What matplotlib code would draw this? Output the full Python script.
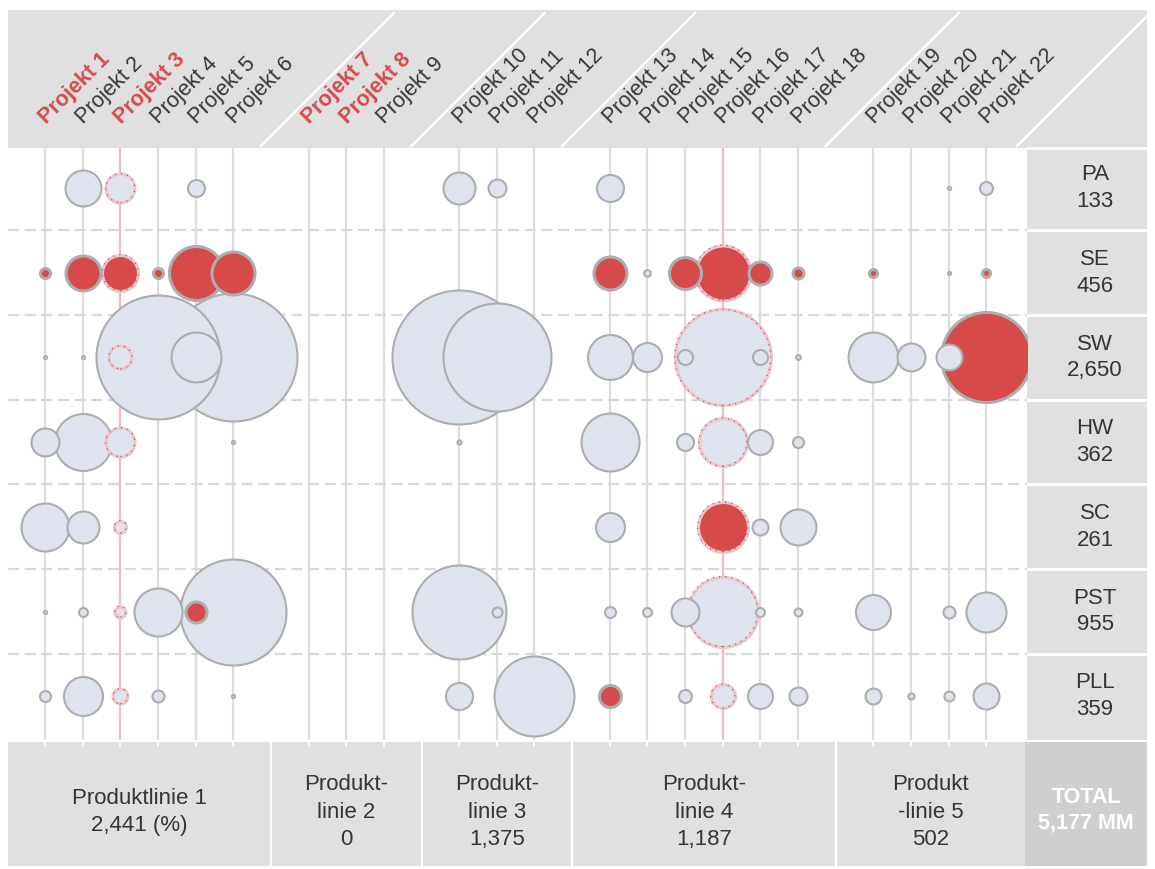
import numpy as np
import matplotlib
matplotlib.use("Agg")
import matplotlib.pyplot as plt
from matplotlib import rcParams
from matplotlib.patches import Rectangle

rcParams["font.family"] = ["Liberation Sans", "DejaVu Sans"]

# ---- data ----
projects = [f"Projekt {i}" for i in range(1, 23)]
product_line = [1] * 6 + [2] * 3 + [3] * 3 + [4] * 6 + [5] * 4
red_labels = [1, 3, 7, 8]
highlight_projects = [3, 16]

rows = ["PA", "SE", "SW", "HW", "SC", "PST", "PLL"]
row_totals = ["133", "456", "2,650", "362", "261", "955", "359"]
line_labels = ["Produktlinie 1\n2,441 (%)", "Produkt-\nlinie 2\n0",
               "Produkt-\nlinie 3\n1,375", "Produkt-\nlinie 4\n1,187",
               "Produkt\n-linie 5\n502"]
total_label = "TOTAL\n5,177 MM"

# values per row (MM), project 1..22, 0 = nothing
pa = [0, 38.5, 25, 0, 8.6, 0, 0, 0, 0, 30.4, 9.6, 0,
      21.7, 0, 0, 0, 0, 0, 0, 0, 0.3, 5.0]
se = [3.0, 36.4, 38.5, 3.0, 86.7, 55, 0, 0, 0, 0, 0, 0,
      32.4, 1.3, 30.4, 90, 15.7, 3.6, 1.9, 0, 0.3, 1.9]
sw = [0.3, 0.3, 15.7, 457, 74, 487, 0, 0, 0, 534, 347, 0,
      60, 25, 6.7, 274, 6.7, 0.7, 74, 23.3, 20, 241]
hw = [23.3, 96.6, 25, 0, 0, 0.3, 0, 0, 0, 0.5, 0, 0,
      100, 0, 8.6, 68.5, 18.6, 3.6, 0, 0, 0, 0]
sc = [68.5, 30.4, 4.3, 0, 0, 0, 0, 0, 0, 0, 0, 0,
      25, 0, 0, 74.3, 7.6, 38.5, 0, 0, 0, 0]
pst = [0.3, 2.4, 3.6, 68.5, 13.1, 334, 0, 0, 0, 263, 3.0, 0,
       3.6, 2.4, 23.3, 146, 2.4, 1.9, 36.4, 0, 4.3, 47.6]
pll = [3.6, 45.2, 6.7, 4.3, 0, 0.3, 0, 0, 0, 21.7, 0, 190,
       14.4, 0, 5.0, 17.1, 18.6, 9.6, 7.6, 1.1, 3.0, 20]
values = [pa, se, sw, hw, sc, pst, pll]

red_pa = []
red_se = [1, 2, 3, 4, 5, 6, 13, 15, 16, 17, 18, 19, 22]
red_sw = [22]
red_hw = []
red_sc = [16]
red_pst = [5]
red_pll = [13]
red_cells = [red_pa, red_se, red_sw, red_hw, red_sc, red_pst, red_pll]

# ---- layout (pixels) ----
DPI = 100
W, H = 1155, 869
x0_px, x1_px, y0_px, y1_px = 8, 1027, 148, 740
col_first, col_step = 45, 37.65
row_first, row_step = 188, 84.7
px_per_sqrt = 2.9  # bubble radius in px per sqrt(value)

GREY_PANEL = "#e0e0e0"
TEXT = "#353535"
RED = "#d64a4a"
FILL = "#dfe3ee"

slots = [i + (pl - 1) for i, pl in enumerate(product_line)]


def slot_px(s):
    return col_first + col_step * s


def row_px(r):
    return row_first + row_step * r


fig = plt.figure(figsize=(W / DPI, H / DPI), dpi=DPI)
bg = fig.add_axes([0, 0, 1, 1])
bg.set_xlim(0, W)
bg.set_ylim(H, 0)
bg.axis("off")

ax = fig.add_axes([x0_px / W, 1 - y1_px / H, (x1_px - x0_px) / W, (y1_px - y0_px) / H])
xmin = -(col_first - x0_px) / col_step
ax.set_xlim(xmin, xmin + (x1_px - x0_px) / col_step)
ymin = -(row_first - y0_px) / row_step
ax.set_ylim(ymin + (y1_px - y0_px) / row_step, ymin)
ax.axis("off")

# panels
right_edge = 1147
bg.add_patch(Rectangle((x0_px, 10), right_edge - x0_px, y0_px - 10, color=GREY_PANEL, lw=0, zorder=0))
bg.add_patch(Rectangle((x1_px, y0_px), right_edge - x1_px, y1_px - y0_px, color=GREY_PANEL, lw=0, zorder=0))
bg.add_patch(Rectangle((x0_px, y1_px + 2), x1_px - 2 - x0_px, 866 - y1_px - 2, color=GREY_PANEL, lw=0, zorder=0))
bg.add_patch(Rectangle((x1_px - 2, y1_px + 2), right_edge - x1_px + 2, 866 - y1_px - 2, color="#cfcfcf", lw=0, zorder=0))
bg.plot([x1_px, right_edge], [y0_px, y0_px], color="white", lw=2, zorder=1)
for r in range(len(rows) - 1):
    yb = row_px(r + 0.5)
    bg.plot([x1_px, right_edge], [yb, yb], color="white", lw=2.2, zorder=1)

# header diagonals and bottom separators at product line boundaries
gap_slots = [slots[product_line.index(k)] - 1 for k in range(2, 6)]
bounds = [slot_px(g) for g in gap_slots]
for b in bounds + [x1_px]:
    bg.plot([b - 10, b + 123], [146, 13], color="white", lw=1.6, zorder=1)
for b in bounds:
    bg.plot([b, b], [y1_px + 2, 866], color="white", lw=1.6, zorder=1)

# header project labels
for i, name in enumerate(projects):
    is_red = (i + 1) in red_labels
    bg.text(slot_px(slots[i]) + 1, 124, name, rotation=45, rotation_mode="anchor",
            ha="left", va="baseline", fontsize=15.5,
            color=RED if is_red else TEXT,
            fontweight="bold" if is_red else "normal", zorder=3)

# row labels on the right
for r, (name, tot) in enumerate(zip(rows, row_totals)):
    bg.text(1095, row_px(r), f"{name}\n{tot}", ha="center", va="center",
            fontsize=16, color=TEXT, linespacing=1.35, zorder=3)

# product line labels at the bottom
edges = [x0_px] + bounds + [x1_px - 2]
for k, lab in enumerate(line_labels):
    bg.text((edges[k] + edges[k + 1]) / 2, 812, lab, ha="center", va="center",
            fontsize=16, color=TEXT, linespacing=1.4, zorder=3)
bg.text((x1_px - 2 + right_edge) / 2, 810, total_label, ha="center", va="center",
        fontsize=15.5, color="white", fontweight="bold", linespacing=1.3, zorder=3)

# grid: column lines and dashed row separators
for i, s in enumerate(slots):
    hl = (i + 1) in highlight_projects
    ax.axvline(s, color="#efbcc6" if hl else "#dcdcdc", lw=1.6, zorder=1)
    bg.plot([slot_px(s), slot_px(s)], [y1_px, y1_px + 6], color="white", lw=1.2, zorder=1)
for r in range(len(rows) - 1):
    ax.axhline(r + 0.5, color="#d8d8d8", lw=1.6, dashes=(5, 2.5), zorder=1)

# bubbles, largest first so small ones sit on top
bubbles = []
for r, row_vals in enumerate(values):
    for i, v in enumerate(row_vals):
        if v > 0:
            bubbles.append((v, r, i))
bubbles.sort(key=lambda b: -b[0])

for k, (v, r, i) in enumerate(bubbles):
    rad = px_per_sqrt * np.sqrt(v)
    size = (2 * rad * 72 / DPI) ** 2
    is_red = (i + 1) in red_cells[r]
    hl = (i + 1) in highlight_projects
    z = 2 + k * 0.01
    ax.scatter([slots[i]], [r], s=size, color=RED if is_red else FILL,
               edgecolors="#e9c7ce" if hl else "#adadad",
               linewidths=2.2 if (hl or is_red) else 1.5, zorder=z)
    if hl:
        ax.scatter([slots[i]], [r], s=size, facecolors="none", edgecolors=RED,
                   linewidths=0.9, linestyle=(0, (1, 4)), zorder=z + 0.001)

fig.savefig("out.png", dpi=DPI)
